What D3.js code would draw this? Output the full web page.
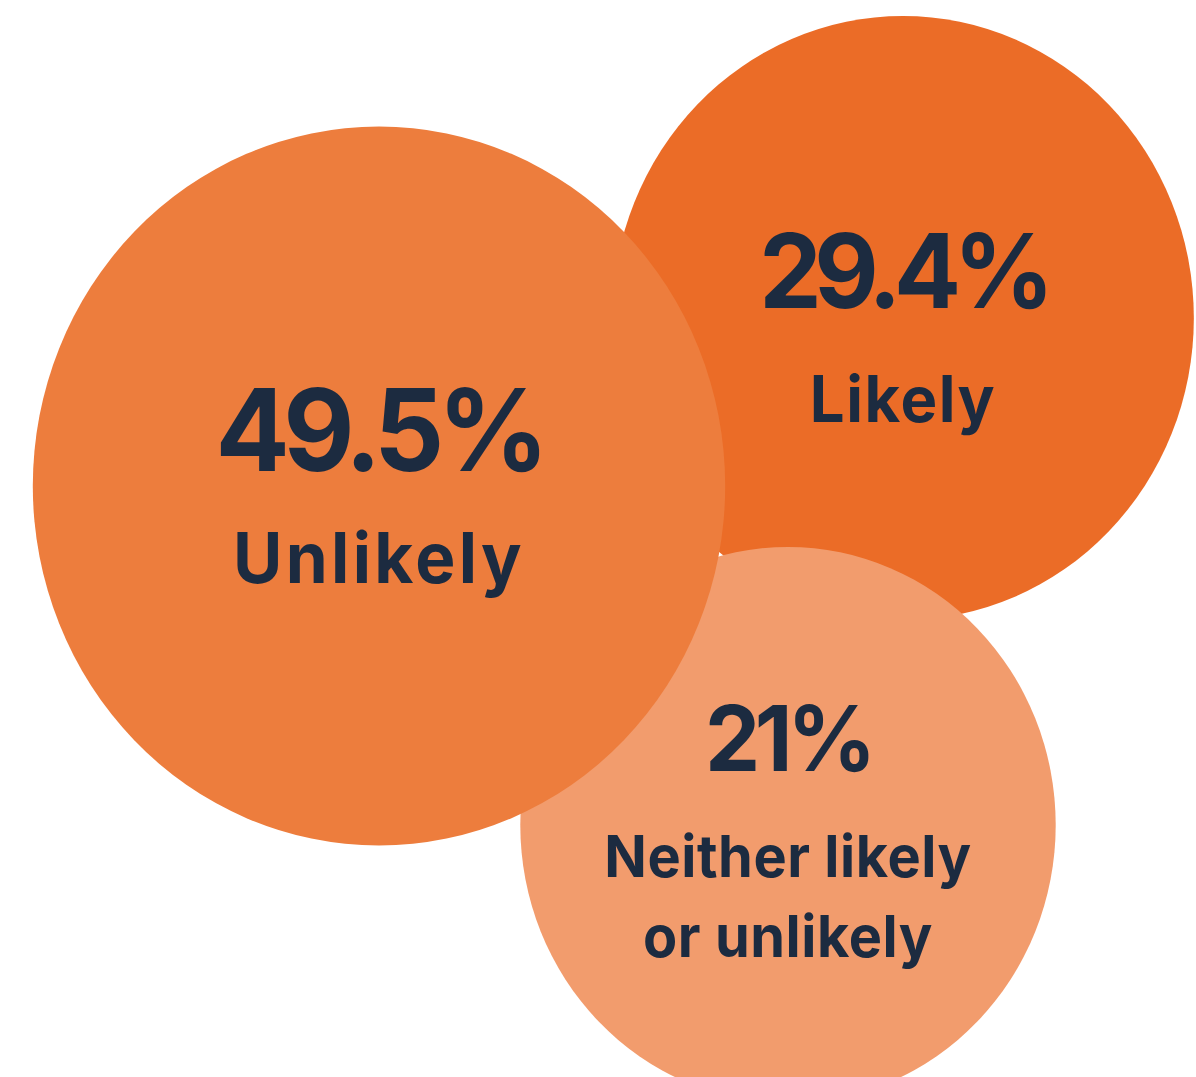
<!doctype html>
<html>
    <head>
        <script src="https://d3js.org/d3.v7.min.js"></script>
        <style>
            body { margin:0; background:#ffffff; }
            text { font-family: Inter, "Noto Sans", sans-serif; font-weight:700; fill:#1c2b40; }
        </style>
    </head>
    <body>
        <svg id="svg1" width="1196" height="1077"></svg>
        <script>
            // data
            var values = [29.4, 21, 49.5]
            var labels = ["Likely", "Neither likely|or unlikely", "Unlikely"]

            // look of each bubble, same order as values
            var colors = ["#eb6c27", "#f29c6d", "#ed7d3d"]
            var centers = [[903, 318], [788, 825], [379, 486]]
            var numSize = [103, 91, 114]
            var labSize = [64, 58, 70]
            var numSpacing = ["-0.075em", "-0.06em", "-0.06em"]
            var labSpacing = ["0.025em", "0.01em", "0.05em"]
            var numDy = [-10, -54, -15]
            var labDy = [104, 52, 97]
            var lineGap = 80
            var squash = 0.963

            var r = d3.scaleLinear().domain([21, 49.5]).range([278, 359.5])

            var svg = d3.select("#svg1")

            var bubbles = svg.selectAll("g.bubble")
                .data(values)
                .enter()
                .append("g")
                .attr("class", "bubble")
                .attr("transform", function(d, i) {
                    return "translate(" + centers[i][0] + "," + centers[i][1] + ") scale(" + squash + ",1)"
                })

            bubbles.append("circle")
                .attr("r", function(d) { return r(d) })
                .attr("fill", function(d, i) { return colors[i] })

            bubbles.append("text")
                .attr("text-anchor", "middle")
                .attr("y", function(d, i) { return numDy[i] })
                .style("font-size", function(d, i) { return numSize[i] + "px" })
                .style("letter-spacing", function(d, i) { return numSpacing[i] })
                .text(function(d) { return d + "%" })

            bubbles.each(function(d, i) {
                var lines = labels[i].split("|")
                var g = d3.select(this)
                lines.forEach(function(t, j) {
                    g.append("text")
                        .attr("text-anchor", "middle")
                        .attr("y", labDy[i] + j * lineGap)
                        .style("font-size", labSize[i] + "px")
                        .style("letter-spacing", labSpacing[i])
                        .text(t)
                })
            })
        </script>
    </body>
</html>
